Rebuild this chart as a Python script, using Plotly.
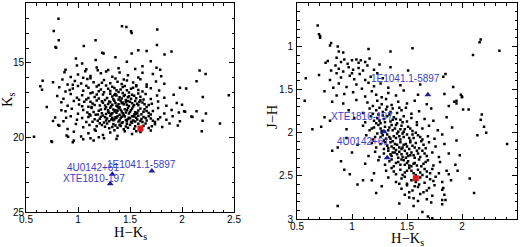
import plotly.graph_objects as go

# ---------------- data ----------------
# Left panel: field stars (H-Ks, Ks)
left_sparse = [
    (0.812, 12.03), (0.767, 12.86), (0.815, 13.48), (0.783, 13.93), (0.790, 13.99),
    (1.056, 13.86), (1.169, 13.48), (1.246, 14.37), (1.233, 14.31), (1.423, 12.54),
    (1.465, 12.59), (1.510, 12.88), (1.516, 12.99), (1.762, 12.75), (1.759, 13.79),
    (1.516, 14.37), (1.580, 14.15), (1.660, 14.20), (1.899, 14.24), (1.832, 14.44),
    (1.755, 15.33), (1.790, 15.45), (2.169, 15.51), (2.227, 15.74), (2.140, 16.23),
    (2.040, 16.72), (2.200, 17.28), (2.450, 17.17), (2.365, 19.06), (2.190, 19.58),
    (2.198, 18.88), (2.230, 18.39), (2.140, 18.24), (2.090, 18.60), (2.100, 18.62),
    (2.020, 18.24), (2.000, 17.80), (0.744, 20.25), (0.750, 20.30), (0.577, 19.96),
    (0.638, 16.56), (0.654, 16.80), (0.700, 17.95), (0.660, 16.20), (0.760, 18.90),
    (0.810, 19.17), (0.840, 18.17), (0.886, 18.68), (0.905, 19.96), (0.960, 20.20),
]
left_cluster = [
    (0.99, 15.18), (1.08, 15.42), (1.18, 15.30), (1.29, 15.47), (1.39, 15.36), (1.19, 15.49),
    (0.88, 15.45), (1.55, 15.40), (1.62, 15.22), (1.04, 15.03),
    (1.36, 14.62), (1.17, 14.80), (1.47, 14.92), (0.98, 14.71), (1.70, 14.88),
    (0.87, 15.62), (0.93, 15.95), (1.00, 15.78), (1.07, 15.56), (1.12, 15.88), (1.22, 15.70),
    (1.33, 15.92), (1.40, 15.64), (1.48, 15.83), (1.58, 15.97), (1.72, 15.74), (1.80, 15.90),
    (1.05, 15.99), (1.27, 15.58), (1.62, 15.66),
    (0.76, 16.30), (0.85, 16.12), (0.90, 16.44), (0.97, 16.21), (1.03, 16.38), (1.09, 16.07),
    (1.15, 16.29), (1.20, 16.48), (1.25, 16.15), (1.31, 16.36), (1.36, 16.05), (1.42, 16.42),
    (1.47, 16.18), (1.53, 16.31), (1.60, 16.09), (1.66, 16.45), (1.75, 16.24), (1.12, 16.02),
    (1.38, 16.27), (1.56, 16.49), (0.95, 16.47), (1.23, 16.33), (1.44, 16.11), (1.83, 16.40),
    (0.82, 16.63), (0.88, 16.91), (0.95, 16.72), (1.00, 16.55), (1.05, 16.86), (1.10, 16.67),
    (1.14, 16.98), (1.18, 16.58), (1.22, 16.79), (1.27, 16.52), (1.31, 16.88), (1.35, 16.69),
    (1.39, 16.95), (1.43, 16.61), (1.47, 16.83), (1.51, 16.74), (1.56, 16.57), (1.62, 16.92),
    (1.70, 16.70), (1.78, 16.85), (1.98, 16.66), (1.25, 16.97), (1.33, 16.60), (1.41, 16.78),
    (1.49, 16.99), (1.58, 16.81), (1.08, 16.53), (0.92, 16.82), (1.66, 16.59), (1.45, 16.54),
    (1.37, 16.83), (1.20, 16.90),
    (0.80, 17.22), (0.86, 17.41), (0.93, 17.08), (0.99, 17.33), (1.04, 17.17), (1.08, 17.46),
    (1.12, 17.03), (1.16, 17.28), (1.20, 17.39), (1.24, 17.11), (1.28, 17.35), (1.31, 17.06),
    (1.34, 17.44), (1.37, 17.19), (1.40, 17.31), (1.43, 17.02), (1.46, 17.48), (1.49, 17.24),
    (1.52, 17.13), (1.56, 17.37), (1.60, 17.27), (1.65, 17.09), (1.70, 17.42), (1.76, 17.18),
    (1.83, 17.34), (1.92, 17.14), (1.26, 17.49), (1.33, 17.26), (1.39, 17.45), (1.45, 17.15),
    (1.51, 17.40), (1.58, 17.05), (1.18, 17.12), (1.10, 17.36), (1.01, 17.47), (1.36, 17.08),
    (1.42, 17.38), (1.48, 17.30), (1.63, 17.45),
    (0.84, 17.63), (0.90, 17.88), (0.96, 17.55), (1.01, 17.79), (1.06, 17.61), (1.10, 17.94),
    (1.14, 17.72), (1.18, 17.52), (1.21, 17.85), (1.24, 17.67), (1.27, 17.98), (1.30, 17.58),
    (1.33, 17.81), (1.36, 17.69), (1.38, 17.92), (1.41, 17.54), (1.44, 17.77), (1.46, 17.63),
    (1.49, 17.89), (1.52, 17.71), (1.55, 17.56), (1.58, 17.84), (1.62, 17.66), (1.66, 17.95),
    (1.71, 17.73), (1.77, 17.59), (1.85, 17.87), (1.95, 17.68), (1.29, 17.75), (1.35, 17.53),
    (1.40, 17.97), (1.43, 17.65), (1.47, 17.80), (1.53, 17.93), (1.60, 17.51), (1.23, 17.57),
    (1.16, 17.83), (1.12, 17.60), (1.39, 17.78), (1.50, 17.60), (1.32, 17.90), (1.57, 17.74),
    (1.68, 17.82), (1.04, 17.90),
    (0.88, 18.24), (0.94, 18.07), (1.00, 18.41), (1.05, 18.16), (1.09, 18.33), (1.13, 18.02),
    (1.17, 18.47), (1.20, 18.21), (1.23, 18.38), (1.26, 18.09), (1.29, 18.29), (1.32, 18.45),
    (1.34, 18.13), (1.37, 18.35), (1.39, 18.04), (1.42, 18.26), (1.44, 18.49), (1.47, 18.18),
    (1.49, 18.40), (1.52, 18.06), (1.55, 18.31), (1.58, 18.19), (1.61, 18.44), (1.64, 18.11),
    (1.68, 18.36), (1.72, 18.22), (1.77, 18.03), (1.83, 18.39), (1.90, 18.15), (1.97, 18.32),
    (2.03, 18.27), (1.27, 18.43), (1.31, 18.01), (1.35, 18.25), (1.40, 18.48), (1.45, 18.10),
    (1.50, 18.28), (1.54, 18.46), (1.60, 18.05), (1.66, 18.23), (1.22, 18.12), (1.15, 18.30),
    (1.11, 18.44), (1.36, 18.17), (1.43, 18.37), (1.48, 18.02), (1.56, 18.42), (1.38, 18.20),
    (1.30, 18.34),
    (0.78, 18.66), (0.86, 18.92), (0.93, 18.58), (0.99, 18.81), (1.04, 18.69), (1.08, 18.96),
    (1.12, 18.53), (1.16, 18.77), (1.19, 18.88), (1.22, 18.61), (1.25, 18.99), (1.28, 18.72),
    (1.31, 18.55), (1.34, 18.85), (1.36, 18.64), (1.39, 18.93), (1.41, 18.70), (1.44, 18.52),
    (1.46, 18.83), (1.49, 18.67), (1.51, 18.95), (1.54, 18.59), (1.57, 18.79), (1.60, 18.90),
    (1.63, 18.62), (1.66, 18.86), (1.70, 18.73), (1.74, 18.97), (1.79, 18.65), (1.85, 18.82),
    (1.91, 18.57), (1.98, 18.91), (1.27, 18.86), (1.33, 18.68), (1.38, 18.57), (1.43, 18.98),
    (1.48, 18.76), (1.53, 18.87), (1.58, 18.54), (1.62, 18.97), (1.68, 18.58), (1.21, 18.74),
    (1.14, 18.95), (1.10, 18.62), (1.35, 18.78), (1.40, 18.84), (1.45, 18.60), (1.50, 18.71),
    (1.55, 18.93), (1.30, 18.91), (1.24, 18.53),
    (0.82, 19.22), (0.90, 19.44), (0.98, 19.09), (1.05, 19.31), (1.11, 19.17), (1.16, 19.46),
    (1.21, 19.05), (1.26, 19.28), (1.30, 19.39), (1.34, 19.12), (1.38, 19.34), (1.42, 19.03),
    (1.46, 19.26), (1.50, 19.15), (1.54, 19.42), (1.58, 19.08), (1.63, 19.21), (1.68, 19.37),
    (1.74, 19.11), (1.81, 19.29), (1.88, 19.06), (1.96, 19.19), (1.28, 19.07), (1.36, 19.20),
    (1.44, 19.45), (1.52, 19.02), (1.60, 19.33), (1.71, 19.24), (1.18, 19.25), (1.40, 19.14),
    (1.48, 19.35),
    (0.89, 19.86), (0.96, 19.62), (1.03, 19.93), (1.10, 19.71), (1.17, 19.55), (1.24, 19.84),
    (1.31, 19.66), (1.38, 19.91), (1.45, 19.58), (1.52, 19.77), (1.60, 19.64), (1.70, 19.53),
    (1.20, 19.98), (1.35, 19.52), (1.56, 19.59),
    (0.95, 20.32), (1.05, 20.12), (1.15, 20.21), (1.25, 20.05), (1.37, 20.10), (1.12, 20.05),
]
left_core = [
    (1.26, 17.86), (1.31, 17.64), (1.37, 17.87), (1.42, 17.71), (1.48, 17.55), (1.54, 17.82),
    (1.59, 17.62), (1.64, 17.77), (1.29, 18.17), (1.33, 18.38), (1.41, 18.14), (1.46, 18.33),
    (1.51, 18.17), (1.57, 18.34), (1.63, 18.27), (1.70, 18.46), (1.26, 18.64), (1.32, 18.79),
    (1.37, 18.70), (1.42, 18.61), (1.47, 18.91), (1.52, 18.58), (1.56, 18.68), (1.61, 18.76),
    (1.65, 18.69), (1.72, 18.88), (1.77, 18.77), (1.33, 19.30), (1.41, 19.23), (1.47, 19.08),
    (1.55, 19.24), (1.65, 19.06), (1.23, 19.17), (1.19, 18.46), (1.13, 17.95), (1.35, 17.15),
    (1.44, 17.22), (1.54, 17.21), (1.29, 16.74), (1.53, 16.66),
]

# Right panel: field stars (H-Ks, J-H)
right_sparse = [
    (0.688, 0.758), (0.700, 0.860), (0.710, 0.880), (0.710, 0.900), (0.800, 0.990),
    (0.810, 0.960), (0.870, 1.000), (0.880, 1.060), (0.920, 1.070), (1.150, 1.030),
    (1.350, 1.060), (1.550, 1.020), (2.100, 1.100), (2.160, 0.950), (2.170, 0.920),
    (2.340, 1.050), (0.570, 1.630), (0.640, 1.960), (0.750, 1.820), (0.580, 1.370),
    (0.820, 2.210), (2.140, 2.030), (2.170, 1.850), (2.180, 1.790), (2.200, 1.930),
    (2.220, 2.000), (2.410, 2.130), (2.070, 2.530), (2.110, 2.700), (0.870, 2.850),
    (1.430, 2.820), (1.560, 2.850), (1.640, 2.920), (1.690, 2.970), (1.990, 1.560),
    (2.000, 1.590), (1.950, 1.630), (1.950, 1.660), (1.830, 1.350), (2.060, 1.730),
    (1.050, 2.600), (0.980, 2.480), (1.180, 2.550), (1.220, 2.700), (1.830, 2.640),
    (1.840, 2.720), (1.850, 2.780), (1.900, 2.550), (1.880, 2.480), (1.960, 2.440),
]
right_cluster = [
    (0.76, 1.19), (0.78, 1.17), (0.86, 1.13), (0.90, 1.18), (0.93, 1.15), (1.00, 1.16),
    (1.04, 1.15), (1.08, 1.16), (1.12, 1.18), (1.16, 1.14), (0.96, 1.20), (1.06, 1.19),
    (0.85, 1.22), (0.88, 1.26), (0.92, 1.29), (0.97, 1.24), (1.01, 1.27), (1.06, 1.25),
    (1.10, 1.28), (1.14, 1.22), (1.20, 1.27), (1.35, 1.24), (1.51, 1.28), (0.81, 1.28),
    (1.25, 1.21),
    (0.70, 1.33), (0.86, 1.31), (0.90, 1.36), (0.98, 1.34), (1.02, 1.38), (1.07, 1.32),
    (1.12, 1.39), (1.17, 1.35), (1.23, 1.31), (1.28, 1.37), (1.85, 1.32), (0.80, 1.39),
    (1.00, 1.31),
    (0.88, 1.43), (0.95, 1.47), (1.04, 1.44), (1.09, 1.49), (1.15, 1.42), (1.20, 1.46),
    (1.26, 1.43), (1.33, 1.48), (1.44, 1.45), (1.62, 1.44), (1.92, 1.47), (0.83, 1.48),
    (0.75, 1.52), (0.86, 1.57), (0.93, 1.55), (1.01, 1.53), (1.12, 1.58), (1.18, 1.52),
    (1.22, 1.56), (1.27, 1.59), (1.33, 1.54), (1.40, 1.57), (1.47, 1.51), (1.60, 1.56),
    (2.00, 1.58), (1.84, 1.55),
    (0.82, 1.64), (0.92, 1.66), (1.04, 1.62), (1.14, 1.65), (1.19, 1.69), (1.23, 1.63),
    (1.27, 1.67), (1.31, 1.61), (1.36, 1.68), (1.42, 1.64), (1.50, 1.66), (1.57, 1.63),
    (1.68, 1.67), (1.93, 1.64), (1.88, 1.69),
    (0.97, 1.74), (1.10, 1.77), (1.16, 1.72), (1.19, 1.78), (1.22, 1.74), (1.25, 1.71),
    (1.28, 1.76), (1.31, 1.73), (1.34, 1.79), (1.37, 1.72), (1.41, 1.77), (1.45, 1.74),
    (1.49, 1.71), (1.54, 1.78), (1.61, 1.75), (1.72, 1.72), (2.01, 1.73), (1.24, 1.79),
    (1.32, 1.70),
    (0.80, 1.86), (1.02, 1.83), (1.12, 1.88), (1.17, 1.81), (1.20, 1.86), (1.23, 1.83),
    (1.26, 1.89), (1.29, 1.84), (1.32, 1.81), (1.35, 1.87), (1.38, 1.82), (1.41, 1.89),
    (1.44, 1.85), (1.47, 1.81), (1.50, 1.87), (1.54, 1.83), (1.59, 1.88), (1.66, 1.84),
    (1.74, 1.86), (1.86, 1.82), (1.28, 1.80), (1.37, 1.85), (1.25, 1.86),
    (0.72, 1.93), (0.95, 1.96), (1.10, 1.92), (1.16, 1.97), (1.20, 1.94), (1.24, 1.91),
    (1.27, 1.98), (1.30, 1.93), (1.33, 1.97), (1.36, 1.91), (1.39, 1.95), (1.42, 1.99),
    (1.45, 1.92), (1.48, 1.96), (1.51, 1.93), (1.55, 1.98), (1.59, 1.91), (1.64, 1.95),
    (1.70, 1.92), (1.78, 1.97), (1.91, 1.94), (1.34, 1.94), (1.40, 1.91), (1.47, 1.99),
    (1.26, 1.95),
    (0.95, 2.06), (1.13, 2.03), (1.19, 2.08), (1.23, 2.01), (1.26, 2.05), (1.29, 2.09),
    (1.32, 2.02), (1.35, 2.07), (1.38, 2.04), (1.41, 2.01), (1.44, 2.08), (1.47, 2.05),
    (1.50, 2.02), (1.53, 2.09), (1.56, 2.06), (1.60, 2.03), (1.64, 2.08), (1.69, 2.04),
    (1.75, 2.07), (1.82, 2.02), (1.95, 2.09), (1.37, 2.10), (1.43, 2.04), (1.52, 2.06),
    (1.58, 2.00), (1.34, 2.05), (1.28, 2.03),
    (0.87, 2.17), (1.05, 2.14), (1.18, 2.12), (1.22, 2.17), (1.26, 2.13), (1.29, 2.19),
    (1.32, 2.15), (1.35, 2.11), (1.38, 2.18), (1.41, 2.14), (1.44, 2.11), (1.46, 2.17),
    (1.49, 2.13), (1.52, 2.19), (1.55, 2.15), (1.58, 2.12), (1.61, 2.18), (1.65, 2.14),
    (1.70, 2.11), (1.76, 2.16), (1.84, 2.13), (1.40, 2.20), (1.47, 2.14), (1.53, 2.11),
    (1.36, 2.16), (1.43, 2.17), (1.63, 2.10), (1.30, 2.11),
    (1.00, 2.23), (1.15, 2.27), (1.21, 2.22), (1.25, 2.28), (1.29, 2.24), (1.33, 2.21),
    (1.36, 2.27), (1.39, 2.23), (1.42, 2.29), (1.45, 2.25), (1.48, 2.21), (1.51, 2.27),
    (1.54, 2.23), (1.57, 2.29), (1.60, 2.24), (1.64, 2.21), (1.68, 2.27), (1.73, 2.23),
    (1.79, 2.28), (1.88, 2.24), (1.98, 2.26), (1.41, 2.25), (1.50, 2.24), (1.56, 2.26),
    (1.37, 2.23), (1.46, 2.28), (1.62, 2.28),
    (0.90, 2.33), (1.12, 2.36), (1.24, 2.32), (1.30, 2.37), (1.34, 2.33), (1.38, 2.39),
    (1.42, 2.34), (1.45, 2.31), (1.48, 2.37), (1.51, 2.33), (1.54, 2.39), (1.57, 2.35),
    (1.61, 2.31), (1.65, 2.36), (1.69, 2.32), (1.74, 2.38), (1.80, 2.34), (1.94, 2.37),
    (1.47, 2.32), (1.56, 2.36), (1.40, 2.35), (1.63, 2.39), (1.36, 2.31), (1.52, 2.38),
    (0.93, 2.43), (1.20, 2.47), (1.31, 2.44), (1.36, 2.41), (1.40, 2.48), (1.44, 2.43),
    (1.48, 2.46), (1.52, 2.41), (1.56, 2.47), (1.60, 2.43), (1.64, 2.49), (1.68, 2.45),
    (1.73, 2.42), (1.79, 2.47), (1.86, 2.44), (1.46, 2.49), (1.54, 2.44), (1.62, 2.46),
    (1.38, 2.45),
    (1.10, 2.55), (1.33, 2.52), (1.40, 2.57), (1.45, 2.53), (1.50, 2.59), (1.54, 2.55),
    (1.62, 2.52), (1.66, 2.58), (1.71, 2.54), (1.76, 2.51), (1.82, 2.57), (1.48, 2.51),
    (1.58, 2.57), (1.43, 2.59), (1.68, 2.51),
    (1.27, 2.62), (1.45, 2.65), (1.50, 2.61), (1.55, 2.67), (1.60, 2.63), (1.65, 2.69),
    (1.70, 2.64), (1.75, 2.61), (1.82, 2.66), (1.57, 2.62), (1.52, 2.69), (1.68, 2.67),
    (1.48, 2.72), (1.56, 2.76), (1.62, 2.71), (1.68, 2.77), (1.73, 2.73), (1.82, 2.78),
    (1.60, 2.79), (1.52, 2.75),
    (1.72, 2.81), (1.82, 2.83), (1.73, 2.99),
]
right_core = [
    (1.30, 1.99), (1.37, 1.97), (1.44, 1.96), (1.53, 1.95), (1.31, 2.07), (1.40, 2.06),
    (1.46, 2.01), (1.55, 2.02), (1.62, 2.05), (1.33, 2.18), (1.39, 2.13), (1.45, 2.19),
    (1.50, 2.16), (1.57, 2.17), (1.67, 2.18), (1.35, 2.25), (1.43, 2.22), (1.49, 2.29),
    (1.53, 2.26), (1.59, 2.21), (1.66, 2.24), (1.44, 2.37), (1.50, 2.35), (1.59, 2.38),
    (1.67, 2.34), (1.50, 2.44), (1.58, 2.49), (1.66, 2.42), (1.30, 1.88), (1.40, 1.84),
    (1.46, 1.88), (1.22, 1.89), (1.27, 2.00), (1.21, 2.05), (1.71, 2.47), (1.61, 2.60),
    (1.74, 2.56), (1.35, 1.76), (1.43, 1.71), (1.18, 1.95),
]

# Magnetars (blue triangles) and their labels
magnetar_names = ["1E1041.1-5897", "4U0142+61", "XTE1810-197"]
left_mag_hk = [1.71, 1.33, 1.31]
left_mag_ks = [22.25, 22.46, 23.10]
right_mag_hk = [1.69, 1.32, 1.29]
right_mag_jh = [1.56, 2.29, 1.99]
left_label_hk = [1.615, 1.144, 1.154]
left_label_ks = [21.83, 22.04, 22.76]
right_label_hk = [1.49, 1.10, 1.09]
right_label_jh = [1.37, 2.096, 1.808]

# Target (red square)
left_target_hk = [1.60]
left_target_ks = [19.40]
right_target_hk = [1.58]
right_target_jh = [2.527]

# Axis ticks and titles
hk_ticks = [0.5, 1, 1.5, 2, 2.5]
ks_ticks = [15, 20, 25]
jh_ticks = [0.5, 1, 1.5, 2, 2.5, 3]
x_title = "H\u2212K<sub>s</sub>"
left_y_title = "K<sub>s</sub>"
right_y_title = "J\u2212H"

# ---------------- figure ----------------
W, H = 520, 247
fig = go.Figure()

lf = left_sparse + left_cluster + left_core
rf = right_sparse + right_cluster + right_core
star_marker = dict(symbol="square", size=2.5, color="black", line=dict(width=0))

fig.add_trace(go.Scatter(x=[p[0] for p in lf], y=[p[1] for p in lf], mode="markers",
                         marker=star_marker, xaxis="x", yaxis="y", hoverinfo="skip"))
fig.add_trace(go.Scatter(x=[p[0] for p in rf], y=[p[1] for p in rf], mode="markers",
                         marker=star_marker, xaxis="x2", yaxis="y2", hoverinfo="skip"))

tri = dict(symbol="triangle-up", size=6, color="#1c1ca0", line=dict(width=0))
fig.add_trace(go.Scatter(x=left_mag_hk, y=left_mag_ks, mode="markers", marker=tri,
                         xaxis="x", yaxis="y"))
fig.add_trace(go.Scatter(x=right_mag_hk, y=right_mag_jh, mode="markers", marker=tri,
                         xaxis="x2", yaxis="y2"))

red = dict(symbol="square", size=6, color="#e01818", line=dict(width=0))
fig.add_trace(go.Scatter(x=left_target_hk, y=left_target_ks, mode="markers", marker=red,
                         xaxis="x", yaxis="y"))
fig.add_trace(go.Scatter(x=right_target_hk, y=right_target_jh, mode="markers", marker=red,
                         xaxis="x2", yaxis="y2"))

lab_font = dict(family="Liberation Sans, Arial, sans-serif", size=10, color="#3c3cc8")
for n, x, y in zip(magnetar_names, left_label_hk, left_label_ks):
    fig.add_annotation(x=x, y=y, xref="x", yref="y", text=n, showarrow=False, font=lab_font,
                       xanchor="center", yanchor="middle")
for n, x, y in zip(magnetar_names, right_label_hk, right_label_jh):
    fig.add_annotation(x=x, y=y, xref="x2", yref="y2", text=n, showarrow=False, font=lab_font,
                       xanchor="center", yanchor="middle")

# axis titles placed as paper annotations
title_font = dict(family="Liberation Serif, Times New Roman, serif", size=14.5, color="black")
for txt, px, py, ang in [
    (x_title, 130, 233, 0),
    (left_y_title, 8, 100, -90),
    (right_y_title, 272, 117, -90),
    (x_title, 407, 238.5, 0),
]:
    fig.add_annotation(x=px / W, y=1 - py / H, xref="paper", yref="paper", text=txt,
                       showarrow=False, font=title_font, textangle=ang,
                       xanchor="center", yanchor="middle")

tick_font = dict(family="Liberation Sans, Arial, sans-serif", size=10, color="black")


def axis(domain, rng, tickvals, minor_dtick, anchor, label_shift):
    return dict(
        domain=domain, range=rng, anchor=anchor, automargin=False,
        tickmode="array", tickvals=tickvals, ticktext=[f"{v:g}" for v in tickvals],
        ticks="inside", ticklen=5, tickwidth=1, tickcolor="black",
        showline=True, linecolor="black", linewidth=1, mirror="allticks",
        showgrid=False, zeroline=False,
        minor=dict(dtick=minor_dtick, tick0=0, ticks="inside", ticklen=2.5,
                   tickwidth=1, tickcolor="black", showgrid=False),
        tickfont=tick_font, ticklabelstandoff=label_shift,
    )


fig.update_layout(
    width=W, height=H,
    margin=dict(l=0, r=0, t=0, b=0, autoexpand=False),
    paper_bgcolor="white", plot_bgcolor="white",
    showlegend=False,
    xaxis=axis([26 / W, 234 / W], [0.5, 2.5], hk_ticks, 0.1, "y", -2),
    yaxis=axis([35 / H, 243.7 / H], [25, 11], ks_ticks, 1, "x", -1),
    xaxis2=axis([297 / W, 517 / W], [0.5, 2.5], hk_ticks, 0.1, "y2", -2),
    yaxis2=axis([28 / H, 243.7 / H], [3, 0.5], jh_ticks, 0.1, "x2", 1),
)

fig.write_html(
    "out.html",
    config={"displayModeBar": False, "staticPlot": True},
    post_script="document.body.style.margin='0';document.body.style.overflow='hidden';",
)
